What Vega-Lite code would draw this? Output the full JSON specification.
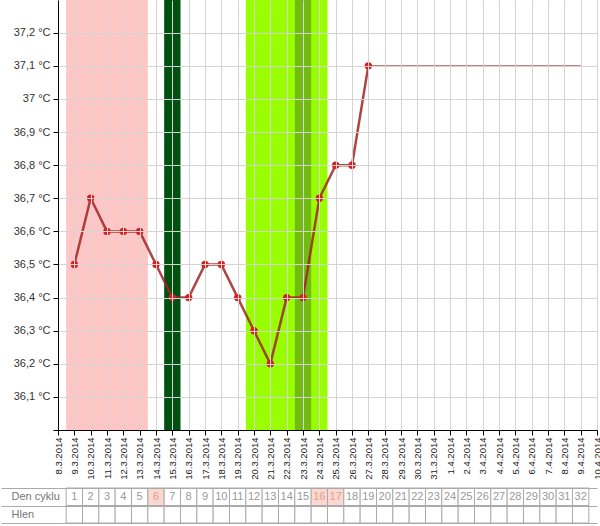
{
  "$schema": "https://vega.github.io/schema/vega-lite/v6.json",
  "padding": 0,
  "background": "white",
  "config": {
    "font": "Liberation Sans",
    "view": {"stroke": null},
    "axis": {"labelFont": "Liberation Sans", "titleFont": "Liberation Sans"}
  },
  "datasets": {
    "temps": [
      {"date": "2014-03-09", "temp": 36.5},
      {"date": "2014-03-10", "temp": 36.7},
      {"date": "2014-03-11", "temp": 36.6},
      {"date": "2014-03-12", "temp": 36.6},
      {"date": "2014-03-13", "temp": 36.6},
      {"date": "2014-03-14", "temp": 36.5},
      {"date": "2014-03-15", "temp": 36.4},
      {"date": "2014-03-16", "temp": 36.4},
      {"date": "2014-03-17", "temp": 36.5},
      {"date": "2014-03-18", "temp": 36.5},
      {"date": "2014-03-19", "temp": 36.4},
      {"date": "2014-03-20", "temp": 36.3},
      {"date": "2014-03-21", "temp": 36.2},
      {"date": "2014-03-22", "temp": 36.4},
      {"date": "2014-03-23", "temp": 36.4},
      {"date": "2014-03-24", "temp": 36.7},
      {"date": "2014-03-25", "temp": 36.8},
      {"date": "2014-03-26", "temp": 36.8},
      {"date": "2014-03-27", "temp": 37.1}
    ],
    "projection": [
      {"date": "2014-03-27", "temp": 37.1},
      {"date": "2014-04-09", "temp": 37.1}
    ],
    "bands": [
      {"from": "2014-03-09", "to": "2014-03-13", "kind": "menstruace"},
      {"from": "2014-03-15", "to": "2014-03-15", "kind": "styk"},
      {"from": "2014-03-20", "to": "2014-03-24", "kind": "plodné dny"},
      {"from": "2014-03-23", "to": "2014-03-23", "kind": "ovulace"}
    ],
    "cycle": [
      {"date": "2014-03-09", "day": 1, "flag": "ne"},
      {"date": "2014-03-10", "day": 2, "flag": "ne"},
      {"date": "2014-03-11", "day": 3, "flag": "ne"},
      {"date": "2014-03-12", "day": 4, "flag": "ne"},
      {"date": "2014-03-13", "day": 5, "flag": "ne"},
      {"date": "2014-03-14", "day": 6, "flag": "ano"},
      {"date": "2014-03-15", "day": 7, "flag": "ne"},
      {"date": "2014-03-16", "day": 8, "flag": "ne"},
      {"date": "2014-03-17", "day": 9, "flag": "ne"},
      {"date": "2014-03-18", "day": 10, "flag": "ne"},
      {"date": "2014-03-19", "day": 11, "flag": "ne"},
      {"date": "2014-03-20", "day": 12, "flag": "ne"},
      {"date": "2014-03-21", "day": 13, "flag": "ne"},
      {"date": "2014-03-22", "day": 14, "flag": "ne"},
      {"date": "2014-03-23", "day": 15, "flag": "ne"},
      {"date": "2014-03-24", "day": 16, "flag": "ano"},
      {"date": "2014-03-25", "day": 17, "flag": "ano"},
      {"date": "2014-03-26", "day": 18, "flag": "ne"},
      {"date": "2014-03-27", "day": 19, "flag": "ne"},
      {"date": "2014-03-28", "day": 20, "flag": "ne"},
      {"date": "2014-03-29", "day": 21, "flag": "ne"},
      {"date": "2014-03-30", "day": 22, "flag": "ne"},
      {"date": "2014-03-31", "day": 23, "flag": "ne"},
      {"date": "2014-04-01", "day": 24, "flag": "ne"},
      {"date": "2014-04-02", "day": 25, "flag": "ne"},
      {"date": "2014-04-03", "day": 26, "flag": "ne"},
      {"date": "2014-04-04", "day": 27, "flag": "ne"},
      {"date": "2014-04-05", "day": 28, "flag": "ne"},
      {"date": "2014-04-06", "day": 29, "flag": "ne"},
      {"date": "2014-04-07", "day": 30, "flag": "ne"},
      {"date": "2014-04-08", "day": 31, "flag": "ne"},
      {"date": "2014-04-09", "day": 32, "flag": "ne"}
    ]
  },
  "spacing": 2,
  "resolve": {"scale": {"x": "independent", "color": "independent"}},
  "vconcat": [
    {
      "width": 539,
      "height": 430,
      "layer": [
        {
          "data": {"name": "bands"},
          "mark": {"type": "rect", "xOffset": -8.17, "x2Offset": 8.17},
          "encoding": {
            "x": {
              "field": "from", "type": "temporal",
              "scale": {"type": "utc", "domain": ["2014-03-08", "2014-04-10"], "nice": false},
              "axis": {
                "title": null, "zindex": 1,
                "labelExpr": "utcFormat(datum.value, '%-d.%-m.%Y')",
                "tickCount": {"interval": "day", "step": 1},
                "labelAngle": -90, "labelFontSize": 9.5, "labelColor": "#222",
                "labelOverlap": false, "labelFlush": false, "labelPadding": 2,
                "tickSize": 5, "tickColor": "#000", "domainColor": "#000",
                "grid": true, "gridColor": "#d4d4d4", "gridWidth": 1
              }
            },
            "x2": {"field": "to"},
            "color": {
              "field": "kind", "type": "nominal",
              "scale": {"domain": ["menstruace", "styk", "plodné dny", "ovulace"], "range": ["#ffc6c6", "#00500f", "#99ff00", "#72bb12"]},
              "legend": null
            }
          }
        },
        {
          "data": {"name": "projection"},
          "mark": {"type": "line", "color": "#a85858", "strokeWidth": 1.2},
          "encoding": {
            "x": {"field": "date", "type": "temporal"},
            "y": {
              "field": "temp", "type": "quantitative",
              "scale": {"domain": [36.0, 37.299], "nice": false, "zero": false},
              "axis": {
                "title": null, "zindex": 1,
                "tickCount": 13,
                "labelExpr": "datum.value < 36.05 ? '' : replace(format(datum.value, '.1~f'), '.', ',') + ' °C'",
                "labelOverlap": false, "labelSeparation": 0, "labelBound": false,
                "labelFontSize": 11, "labelColor": "#333", "labelPadding": 3,
                "tickSize": 5, "tickColor": "#000", "domainColor": "#000",
                "grid": true, "gridColor": "#d4d4d4", "gridWidth": 1
              }
            }
          }
        },
        {
          "data": {"name": "temps"},
          "mark": {"type": "line", "color": "#a02525", "strokeWidth": 2.5, "opacity": 0.85},
          "encoding": {
            "x": {"field": "date", "type": "temporal"},
            "y": {"field": "temp", "type": "quantitative"}
          }
        },
        {
          "data": {"name": "temps"},
          "mark": {"type": "circle", "color": "#d42020", "size": 55, "opacity": 1},
          "encoding": {
            "x": {"field": "date", "type": "temporal"},
            "y": {"field": "temp", "type": "quantitative"}
          }
        }
      ]
    },
    {
      "width": 539,
      "height": 35,
      "data": {"name": "cycle"},
      "layer": [
        {
          "mark": {"type": "rect", "xOffset": -8.17, "x2Offset": 8.17, "stroke": "#aaaaaa", "strokeWidth": 1},
          "encoding": {
            "x": {
              "field": "date", "type": "temporal",
              "scale": {"type": "utc", "domain": ["2014-03-08", "2014-04-10"], "nice": false},
              "axis": null
            },
            "x2": {"field": "date"},
            "y": {
              "datum": "Den cyklu", "type": "nominal",
              "scale": {"domain": ["Den cyklu", "Hlen"], "paddingInner": 0, "paddingOuter": 0},
              "axis": {
                "title": null, "orient": "left", "tickBand": "extent",
                "tickSize": 57, "tickColor": "#aaaaaa", "domain": false,
                "labelAlign": "left", "labelPadding": -10, "labelFontSize": 11, "labelColor": "#777",
                "grid": true, "gridColor": "#aaaaaa"
              }
            },
            "fill": {"condition": {"test": "datum.flag === 'ano'", "value": "#fbd8cf"}, "value": "#ffffff"}
          }
        },
        {
          "mark": {"type": "rect", "xOffset": -8.17, "x2Offset": 8.17, "stroke": "#aaaaaa", "strokeWidth": 1, "fill": "#ffffff"},
          "encoding": {
            "x": {"field": "date", "type": "temporal"},
            "x2": {"field": "date"},
            "y": {"datum": "Hlen", "type": "nominal"}
          }
        },
        {
          "mark": {"type": "text", "fontSize": 11, "font": "Liberation Sans"},
          "encoding": {
            "x": {"field": "date", "type": "temporal"},
            "y": {"datum": "Den cyklu", "type": "nominal"},
            "text": {"field": "day", "type": "quantitative"},
            "color": {"condition": {"test": "datum.flag === 'ano'", "value": "#e0a090"}, "value": "#999999"}
          }
        }
      ]
    }
  ]
}
